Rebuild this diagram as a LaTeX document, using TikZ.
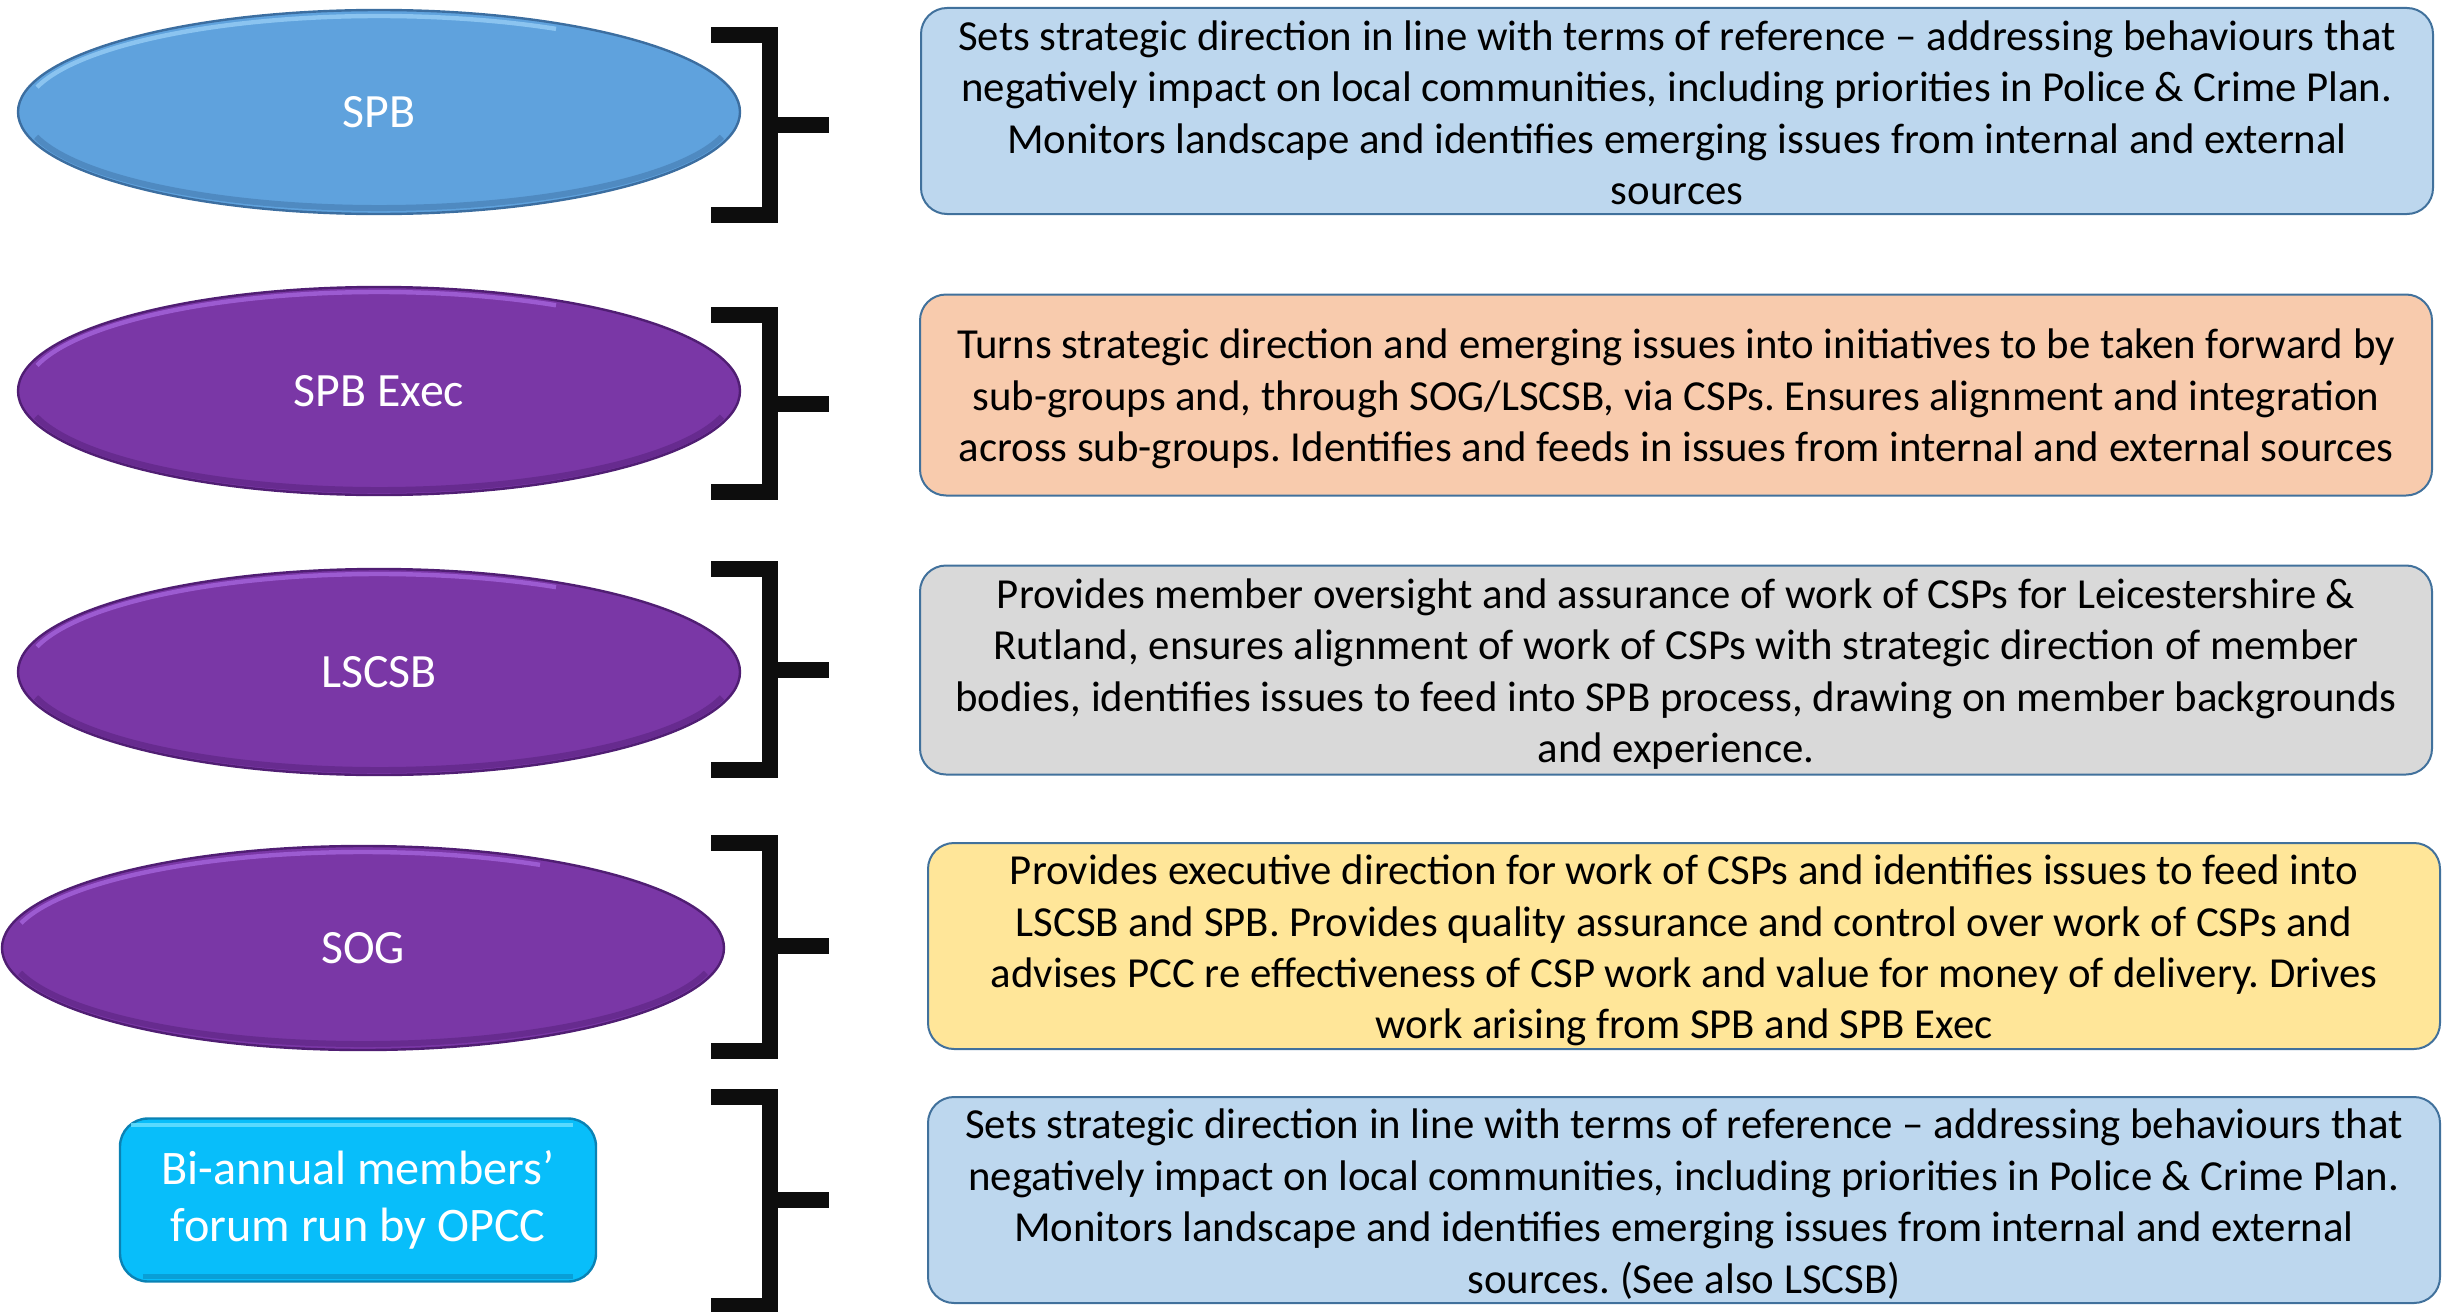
\documentclass[tikz,border=0pt]{standalone}
\usepackage{fontspec}
\setmainfont{Carlito}
\frenchspacing
\usetikzlibrary{shapes.geometric}
\definecolor{spbblue}{RGB}{95,162,221}
\definecolor{spbedge}{RGB}{60,110,160}
\definecolor{spbhi}{RGB}{150,205,245}
\definecolor{purp}{RGB}{122,55,166}
\definecolor{purpedge}{RGB}{80,30,115}
\definecolor{purphi}{RGB}{165,100,220}
\definecolor{cyanbox}{RGB}{8,190,250}
\definecolor{cyanedge}{RGB}{10,130,180}
\definecolor{cyanhi}{RGB}{110,225,255}
\definecolor{boxedge}{RGB}{65,113,156}
\definecolor{lblue}{RGB}{189,215,238}
\definecolor{peach}{RGB}{248,203,173}
\definecolor{lgray}{RGB}{217,217,217}
\definecolor{lyellow}{RGB}{255,230,153}
\newcommand\mytopfix[1]{\rule{0pt}{#1}}
\tikzset{
  oval/.style={ellipse, draw=#1, line width=1.2pt, text=white, font=\fontsize{23.9}{29}\selectfont,
    minimum width=361pt, minimum height=102pt, inner sep=0pt},
  descbox/.style={draw=boxedge, line width=1pt, rounded corners=13pt, fill=#1,
    minimum width=756pt, minimum height=103pt, align=center, text=black,
    font=\fontsize{21.4}{25.7}\selectfont, inner sep=0pt},
  brk/.style={line width=7.8pt, black!95, line join=miter},
  rimhi/.style={line width=2.2pt, opacity=0.8},
  rimlo/.style={line width=3pt, opacity=0.45}
}
\begin{document}
\begin{tikzpicture}[x=0.5pt,y=-0.5pt]
\useasboundingbox (0,0) rectangle (2445,1311);
% ovals
\node[oval=spbedge, fill=spbblue] (spb) at (379,112) {SPB};
\node[oval=purpedge, fill=purp, minimum height=104pt] (exec) at (379,391) {SPB Exec};
\node[oval=purpedge, fill=purp, minimum height=103pt] (lscsb) at (379,672) {LSCSB};
\node[oval=purpedge, fill=purp] (sog) at (363,948) {SOG};
\node[draw=cyanedge, line width=1.2pt, fill=cyanbox, rounded corners=14pt, text=white,
  minimum width=238pt, minimum height=81.5pt, align=center, inner sep=0pt,
  font=\fontsize{24.1}{28.8}\selectfont] (forum) at (358,1200) {Bi-annual members’\\forum run by OPCC};
% rim highlights and shadows on ovals
\foreach \n/\hi/\lo/\ry in {spb/spbhi/spbedge/96, exec/purphi/purpedge/99, lscsb/purphi/purpedge/98, sog/purphi/purpedge/96}{
  \draw[rimhi, draw=\hi] (\n.center) ++(195:354 and \ry) arc[start angle=195, end angle=300, x radius=354, y radius=\ry];
  \draw[rimlo, draw=\lo] (\n.center) ++(15:355 and \ry) arc[start angle=15, end angle=165, x radius=355, y radius=\ry];
}
\draw[cyanhi, line width=2pt, opacity=0.8] ([xshift=6pt,yshift=-4pt]forum.north west) -- ([xshift=-12pt,yshift=-4pt]forum.north east);
\draw[cyanedge, line width=2.5pt, opacity=0.5] ([xshift=12pt,yshift=3pt]forum.south west) -- ([xshift=-12pt,yshift=3pt]forum.south east);
% description boxes
\node[descbox=lblue] (d1) at (1677,111) {\mytopfix{16.5pt}Sets strategic direction in line with terms of reference – addressing behaviours that\\negatively impact on local communities, including priorities in Police \& Crime Plan.\\Monitors landscape and identifies emerging issues from internal and external\\sources};
\node[descbox=peach, minimum height=100.5pt] (d2) at (1676,395) {\mytopfix{19pt}Turns strategic direction and emerging issues into initiatives to be taken forward by\\sub-groups and, through SOG/LSCSB, via CSPs. Ensures alignment and integration\\across sub-groups. Identifies and feeds in issues from internal and external sources};
\node[descbox=lgray, minimum height=104.5pt] (d3) at (1676,670) {\mytopfix{19pt}Provides member oversight and assurance of work of CSPs for Leicestershire \&\\Rutland, ensures alignment of work of CSPs with strategic direction of member\\bodies, identifies issues to feed into SPB process, drawing on member backgrounds\\and experience.};
\node[descbox=lyellow] (d4) at (1684,946) {\mytopfix{19.5pt}Provides executive direction for work of CSPs and identifies issues to feed into\\LSCSB and SPB. Provides quality assurance and control over work of CSPs and\\advises PCC re effectiveness of CSP work and value for money of delivery. Drives\\work arising from SPB and SPB Exec};
\node[descbox=lblue] (d5) at (1684,1200) {\mytopfix{19pt}Sets strategic direction in line with terms of reference – addressing behaviours that\\negatively impact on local communities, including priorities in Police \& Crime Plan.\\Monitors landscape and identifies emerging issues from internal and external\\sources. (See also LSCSB)};
% brackets
\foreach \t/\m/\b in {35/125/215, 315/404/492, 569/670/770, 843/946/1051, 1097/1200/1306}{
  \draw[brk] (711,\t) -- (770,\t) -- (770,\b) -- (711,\b);
  \draw[brk] (770,\m) -- (829,\m);
}
\end{tikzpicture}
\end{document}
